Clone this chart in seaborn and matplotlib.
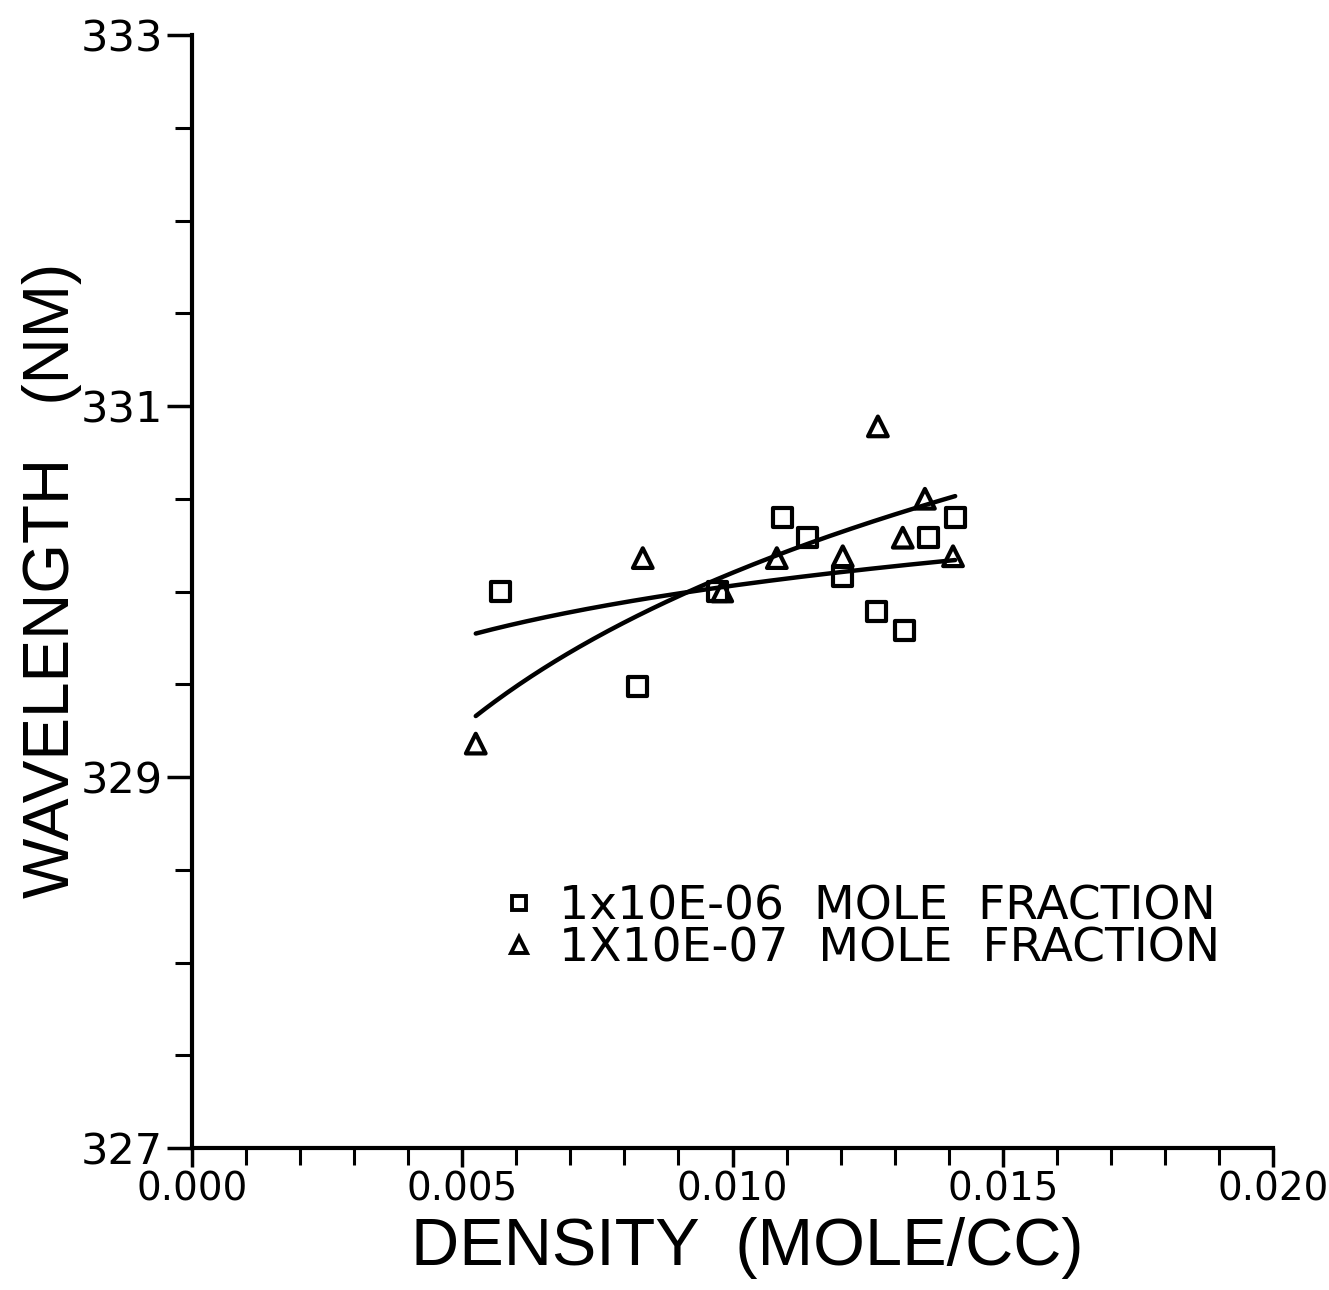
import numpy as np
import pandas as pd
import matplotlib
matplotlib.use("Agg")
import matplotlib.pyplot as plt
from matplotlib.lines import Line2D
import seaborn as sns

# ---- data ----
sq_density = [0.00570, 0.00825, 0.00973, 0.01092, 0.01138, 0.01204, 0.01267, 0.01319, 0.01362, 0.01412]
sq_wavelength = [330.00, 329.49, 330.00, 330.40, 330.29, 330.08, 329.89, 329.79, 330.29, 330.40]

tri_density = [0.00525, 0.00834, 0.00981, 0.01082, 0.01204, 0.01269, 0.01315, 0.01356, 0.01408]
tri_wavelength = [329.18, 330.18, 330.00, 330.18, 330.19, 330.89, 330.29, 330.50, 330.19]

series_labels = ["1x10E-06  MOLE  FRACTION", "1X10E-07  MOLE  FRACTION"]
x_tick_labels = ["0.000", "0.005", "0.010", "0.015", "0.020"]
y_tick_labels = ["327", "329", "331", "333"]

sns.set_style("ticks", rc={"axes.edgecolor": "black", "text.color": "black",
                           "axes.labelcolor": "black", "xtick.color": "black",
                           "ytick.color": "black"})
plt.rcParams["font.family"] = ["DejaVu Sans"]

fig = plt.figure(figsize=(13.29, 12.90), dpi=100)
ax = fig.add_axes([192 / 1329, 1 - 1148 / 1290, (1273 - 192) / 1329, (1148 - 35) / 1290])

# logarithmic least-squares fits (wavelength = a + b ln density) over the common data span
xs = np.linspace(min(sq_density + tri_density), max(sq_density + tri_density), 200)
c1 = np.polyfit(np.log(sq_density), sq_wavelength, 1)
c2 = np.polyfit(np.log(tri_density), tri_wavelength, 1)
sns.lineplot(x=xs, y=np.polyval(c1, np.log(xs)), ax=ax, color="black", linewidth=3.2)
sns.lineplot(x=xs, y=np.polyval(c2, np.log(xs)), ax=ax, color="black", linewidth=3.2)

sns.scatterplot(x=sq_density, y=sq_wavelength, ax=ax, marker="s", s=190,
                facecolors="none", edgecolor="black", linewidth=3, zorder=3)
sns.scatterplot(x=tri_density, y=tri_wavelength, ax=ax, marker="^", s=200,
                facecolors="none", edgecolor="black", linewidth=3, zorder=3)

ax.set_xlim(0, 0.020)
ax.set_ylim(327, 333)
sns.despine(ax=ax)
for sp in ("left", "bottom"):
    ax.spines[sp].set_linewidth(3)

ax.set_xticks([0.0, 0.005, 0.010, 0.015, 0.020])
ax.set_xticklabels(x_tick_labels)
ax.set_xticks(np.arange(0, 0.0201, 0.001), minor=True)
ax.set_yticks([327, 329, 331, 333])
ax.set_yticklabels(y_tick_labels)
ax.set_yticks(np.arange(327, 333.01, 0.5), minor=True)
ax.tick_params(axis="both", which="major", direction="out", length=18, width=2.5, pad=3)
ax.tick_params(axis="both", which="minor", direction="out", length=12, width=2.2)
ax.tick_params(axis="x", which="major", length=14, pad=2, labelsize=28)
ax.tick_params(axis="y", which="major", labelsize=31)

ax.set_xlabel("DENSITY  (MOLE/CC)", fontsize=48, family=["Liberation Sans", "DejaVu Sans"])
ax.xaxis.set_label_coords((747 - 192) / 1081, -0.062)
ax.set_ylabel("WAVELENGTH   (NM)", fontsize=46, family=["Liberation Sans", "DejaVu Sans"])
ax.yaxis.set_label_coords((82 - 192) / 1081, (1148 - 580) / 1113)

handles = [
    Line2D([], [], linestyle="none", marker="s", markersize=10, markerfacecolor="none",
           markeredgecolor="black", markeredgewidth=2.8),
    Line2D([], [], linestyle="none", marker="^", markersize=11, markerfacecolor="none",
           markeredgecolor="black", markeredgewidth=2.8),
]
ax.legend(handles, series_labels, loc="upper left", bbox_to_anchor=(0.2895, 0.237),
          frameon=False, fontsize=34, handlelength=0.6, handletextpad=0.55,
          labelspacing=-0.05, borderpad=0, borderaxespad=0)

fig.savefig("out.png", dpi=100)
